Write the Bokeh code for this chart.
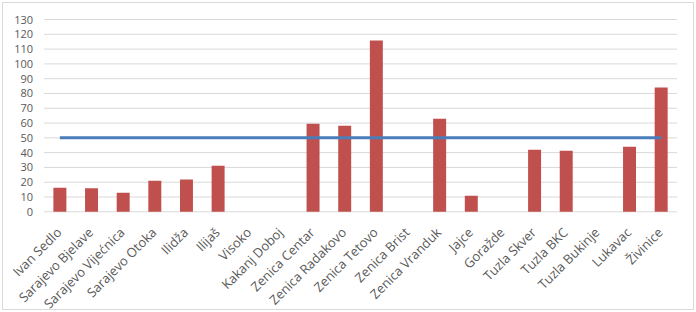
import math
from bokeh.plotting import figure
from bokeh.models import Range1d
from bokeh.core.properties import value
from bokeh.embed import file_html
from bokeh.resources import INLINE

categories = ["Ivan Sedlo", "Sarajevo Bjelave", "Sarajevo Vijećnica", "Sarajevo Otoka",
              "Ilidža", "Ilijaš", "Visoko", "Kakanj Doboj", "Zenica Centar",
              "Zenica Radakovo", "Zenica Tetovo", "Zenica Brist", "Zenica Vranduk",
              "Jajce", "Goražde", "Tuzla Skver", "Tuzla BKC", "Tuzla Bukinje",
              "Lukavac", "Živinice"]
values = [16.2, 16.0, 12.8, 21.0, 21.8, 31.1, 0, 0, 59.5, 58.1, 115.8, 0, 62.9,
          10.8, 0, 41.9, 41.2, 0, 43.9, 84.0]
limit = [50, 50, 50, 50, 50, 50, 50, 50, 50, 50, 50, 50, 50, 50, 50, 50, 50, 50, 50, 50]
y_ticks = [0, 10, 20, 30, 40, 50, 60, 70, 80, 90, 100, 110, 120, 130]
y_tick_labels = ["0", "10", "20", "30", "40", "50", "60", "70", "80", "90",
                 "100", "110", "120", "130"]

FONT = "Open Sans"
GRAY_TXT = "#595959"

idx = list(range(len(categories)))
first_edge = idx[0] - 0.5
last_edge = idx[-1] + 0.5

# frame covers the whole chart area so rotated category labels are not clipped
p = figure(x_range=Range1d(-1.75, 19.99), y_range=Range1d(-65.38, 140.16),
           width=690, height=306, output_backend="svg", toolbar_location=None,
           min_border_left=1, min_border_right=1, min_border_top=1, min_border_bottom=1,
           margin=(3, 3, 3, 3))
p.styles = {"outline": "1px solid #d9d9d9"}

# horizontal gridlines across the category span
p.segment(x0=first_edge, x1=last_edge, y0=y_ticks, y1=y_ticks,
          line_color="#d9d9d9", line_width=1)

p.vbar(x=idx, top=values, width=0.41, fill_color="#c0504d", line_color=None)
p.line(x=idx, y=limit, line_color="#4a7ebb", line_width=3)

# value labels on the left
p.text(x=first_edge, y=y_ticks, text=y_tick_labels, x_offset=-11,
       text_align="right", text_baseline="middle",
       text_font=value(FONT), text_font_size=value("11px"), text_color=GRAY_TXT)

# rotated category labels
p.text(x=idx, y=0, text=categories, angle=math.pi / 4,
       text_align="right", text_baseline="middle", y_offset=18, x_offset=-1,
       text_font=value(FONT), text_font_size=value("13px"), text_color=GRAY_TXT)

p.outline_line_color = None
p.grid.visible = False
p.xaxis.visible = False
p.yaxis.visible = False

open("out.html", "w").write(file_html(p, INLINE))
